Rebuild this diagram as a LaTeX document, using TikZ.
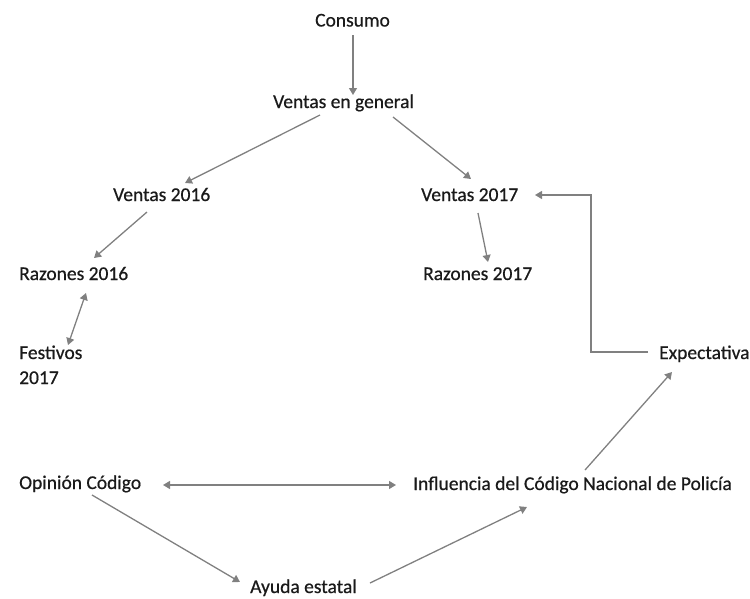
\documentclass[tikz,border=0pt]{standalone}
\usepackage{fontspec}
\setmainfont{Carlito}[FakeBold=0.6]
\usetikzlibrary{arrows.meta}
\definecolor{txt}{HTML}{1A1A1A}
\definecolor{ln}{HTML}{808080}
\tikzset{
  lbl/.style={anchor=base west, inner sep=0pt, text=txt, font=\fontsize{19.5}{25}\selectfont},
  arr/.style={draw=ln, line width=1.3pt, -{Triangle[width=8pt,length=7pt]}},
  darr/.style={draw=ln, line width=1.3pt, {Triangle[width=8pt,length=7pt]}-{Triangle[width=8pt,length=7pt]}}
}
\begin{document}
\begin{tikzpicture}[x=1pt,y=-1pt]
\useasboundingbox (0,0) rectangle (750,598);
\node[lbl] (c) at (315,26.5) {Consumo};
\node[lbl] (vg) at (273,108) {Ventas en general};
\node[lbl] (v16) at (113,201) {Ventas 2016};
\node[lbl] (v17) at (421,201) {Ventas 2017};
\node[lbl] (r16) at (19,280) {Razones 2016};
\node[lbl] (r17) at (423,280) {Razones 2017};
\node[lbl, align=left] (fest) at (19,384) {Festivos\\2017};
\node[lbl] (exp) at (659,359) {Expectativa};
\node[lbl] (op) at (19,489) {Opinión Código};
\node[lbl] (inf) at (413,490) {Influencia del Código Nacional de Policía};
\node[lbl] (ay) at (250,593) {Ayuda estatal};

\draw[arr] ([shift={(38,8.5)}]c.base west) -- ([shift={(80,-13)}]vg.base west);
\draw[arr] ([shift={(47,7)}]vg.base west) -- ([shift={(72,-18)}]v16.base west);
\draw[arr] ([shift={(120,9)}]vg.base west) -- ([shift={(50,-22)}]v17.base west);
\draw[arr] ([shift={(34,11)}]v16.base west) -- ([shift={(75,-22)}]r16.base west);
\draw[arr] ([shift={(57,12)}]v17.base west) -- ([shift={(65,-18)}]r17.base west);
\draw[darr] ([shift={(67,13)}]r16.base west) -- ([shift={(49,-39)}]fest.base west);
\draw[arr] ([shift={(-11,-7)}]exp.base west) -- ++(-57,0) |- ([shift={(114,-6)}]v17.base west);
\draw[darr] ([shift={(144,-4)}]op.base west) -- ([shift={(-17,-5)}]inf.base west);
\draw[arr] ([shift={(73,6)}]op.base west) -- ([shift={(-10,-11)}]ay.base west);
\draw[arr] ([shift={(120,-10)}]ay.base west) -- ([shift={(114,17)}]inf.base west);
\draw[arr] ([shift={(172,-20)}]inf.base west) -- ([shift={(13,13)}]exp.base west);
\end{tikzpicture}
\end{document}
